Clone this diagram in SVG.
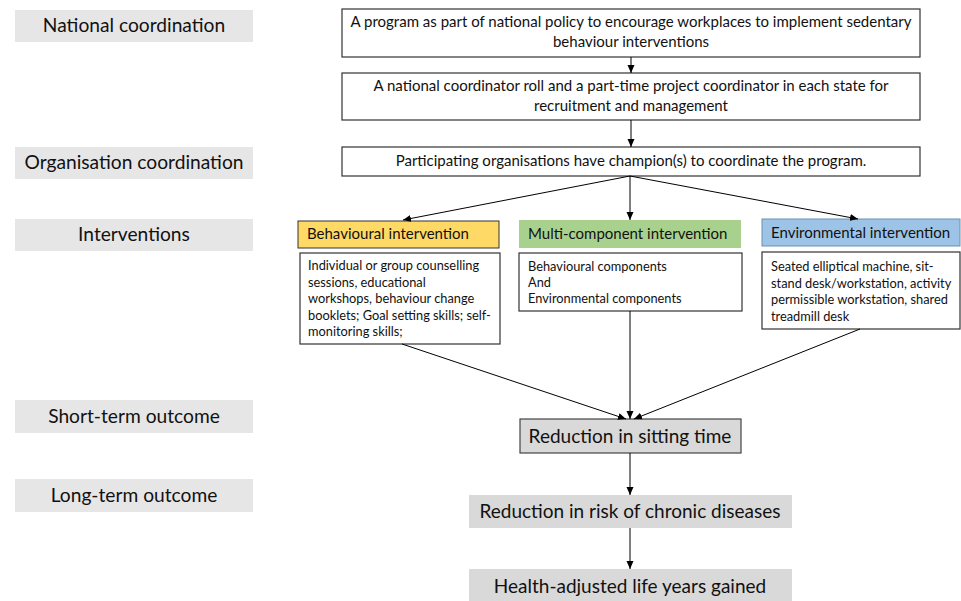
<svg xmlns="http://www.w3.org/2000/svg" width="961" height="601" viewBox="0 0 961 601">
<defs>
<marker id="ah" markerWidth="8" markerHeight="8" refX="8" refY="4" orient="auto" markerUnits="userSpaceOnUse">
<path d="M0,0.5 L8,4 L0,7.5 Z" fill="#000"/>
</marker>
<style>
text{font-family:Lato,"Liberation Sans",sans-serif;fill:#111}
.lab rect{fill:#e7e6e6}
.lab text{font-size:19.2px;text-anchor:middle}
.bx{fill:#fff;stroke:#333;stroke-width:1.2}
.top text{font-size:15px;text-anchor:middle}
.hd text{font-size:15px}
.dt text{font-size:12.8px}
.out text{font-size:19px;text-anchor:middle}
.conn line{stroke:#000;stroke-width:1;marker-end:url(#ah)}
</style>
</defs>
<rect width="961" height="601" fill="#fff"/>
<g id="lab-national" class="lab"><rect x="15" y="10" width="238" height="32"/><text x="134" y="32">National coordination</text></g>
<g id="lab-org" class="lab"><rect x="15" y="147" width="238" height="32"/><text x="134" y="169">Organisation coordination</text></g>
<g id="lab-int" class="lab"><rect x="15" y="219" width="238" height="32"/><text x="134" y="241">Interventions</text></g>
<g id="lab-short" class="lab"><rect x="15" y="400" width="238" height="33"/><text x="134" y="423">Short-term outcome</text></g>
<g id="lab-long" class="lab"><rect x="15" y="479" width="238" height="33"/><text x="134" y="502">Long-term outcome</text></g>

<g id="n-policy" class="top"><rect class="bx" x="342" y="9" width="578" height="48"/><text x="631" y="27">A program as part of national policy to encourage workplaces to implement sedentary</text><text x="631" y="47">behaviour interventions</text></g>
<g id="n-coord" class="top"><rect class="bx" x="342" y="73" width="578" height="47"/><text x="631" y="91">A national coordinator roll and a part-time project coordinator in each state for</text><text x="631" y="111">recruitment and management</text></g>
<g id="n-champ" class="top"><rect class="bx" x="342" y="147" width="578" height="29"/><text x="631" y="166">Participating organisations have champion(s) to coordinate the program.</text></g>

<g id="n-behav" class="hd"><rect x="298" y="221" width="201" height="27" fill="#ffd966" stroke="#333" stroke-width="1"/><text x="307" y="239">Behavioural intervention</text></g>
<g id="n-multi" class="hd"><rect x="519" y="220" width="222" height="28" fill="#a9d18e"/><text x="528" y="239">Multi-component intervention</text></g>
<g id="n-env" class="hd"><rect x="762" y="219" width="198" height="27" fill="#9dc3e6" stroke="#6f8fb0" stroke-width="1"/><text x="771" y="238">Environmental intervention</text></g>

<g id="n-behav-d" class="dt"><rect class="bx" x="300" y="253" width="200" height="91"/>
<text x="308" y="270">Individual or group counselling</text>
<text x="308" y="286.5">sessions, educational</text>
<text x="308" y="303">workshops, behaviour change</text>
<text x="308" y="319.5">booklets; Goal setting skills; self-</text>
<text x="308" y="336">monitoring  skills;</text></g>
<g id="n-multi-d" class="dt"><rect class="bx" x="519" y="253" width="223" height="58"/>
<text x="528" y="271">Behavioural components</text>
<text x="528" y="287">And</text>
<text x="528" y="303">Environmental  components</text></g>
<g id="n-env-d" class="dt"><rect class="bx" x="762" y="252" width="198" height="77"/>
<text x="771" y="271">Seated elliptical machine, sit-</text>
<text x="771" y="287.5">stand desk/workstation, activity</text>
<text x="771" y="304">permissible workstation, shared</text>
<text x="771" y="320.5">treadmill desk</text></g>

<g id="n-sitting" class="out"><rect x="520" y="419" width="221" height="34" fill="#d9d9d9" stroke="#444" stroke-width="1.2"/><text x="630" y="443">Reduction in sitting time</text></g>
<g id="n-risk" class="out"><rect x="469" y="495" width="323" height="33" fill="#d9d9d9"/><text x="630" y="518">Reduction in risk of chronic diseases</text></g>
<g id="n-haly" class="out"><rect x="469" y="569" width="323" height="33" fill="#d9d9d9"/><text x="630" y="593">Health-adjusted life years gained</text></g>

<g id="connectors" class="conn">
<line x1="631" y1="57" x2="631" y2="73"/>
<line x1="631" y1="120" x2="631" y2="147"/>
<line x1="630" y1="176" x2="403" y2="220"/>
<line x1="630" y1="176" x2="630" y2="220"/>
<line x1="630" y1="176" x2="858" y2="219"/>
<line x1="402" y1="344" x2="626" y2="419"/>
<line x1="630" y1="311" x2="630" y2="419"/>
<line x1="860" y1="329" x2="634" y2="419"/>
<line x1="630" y1="453" x2="630" y2="495"/>
<line x1="630" y1="528" x2="630" y2="569"/>
</g>
</svg>
